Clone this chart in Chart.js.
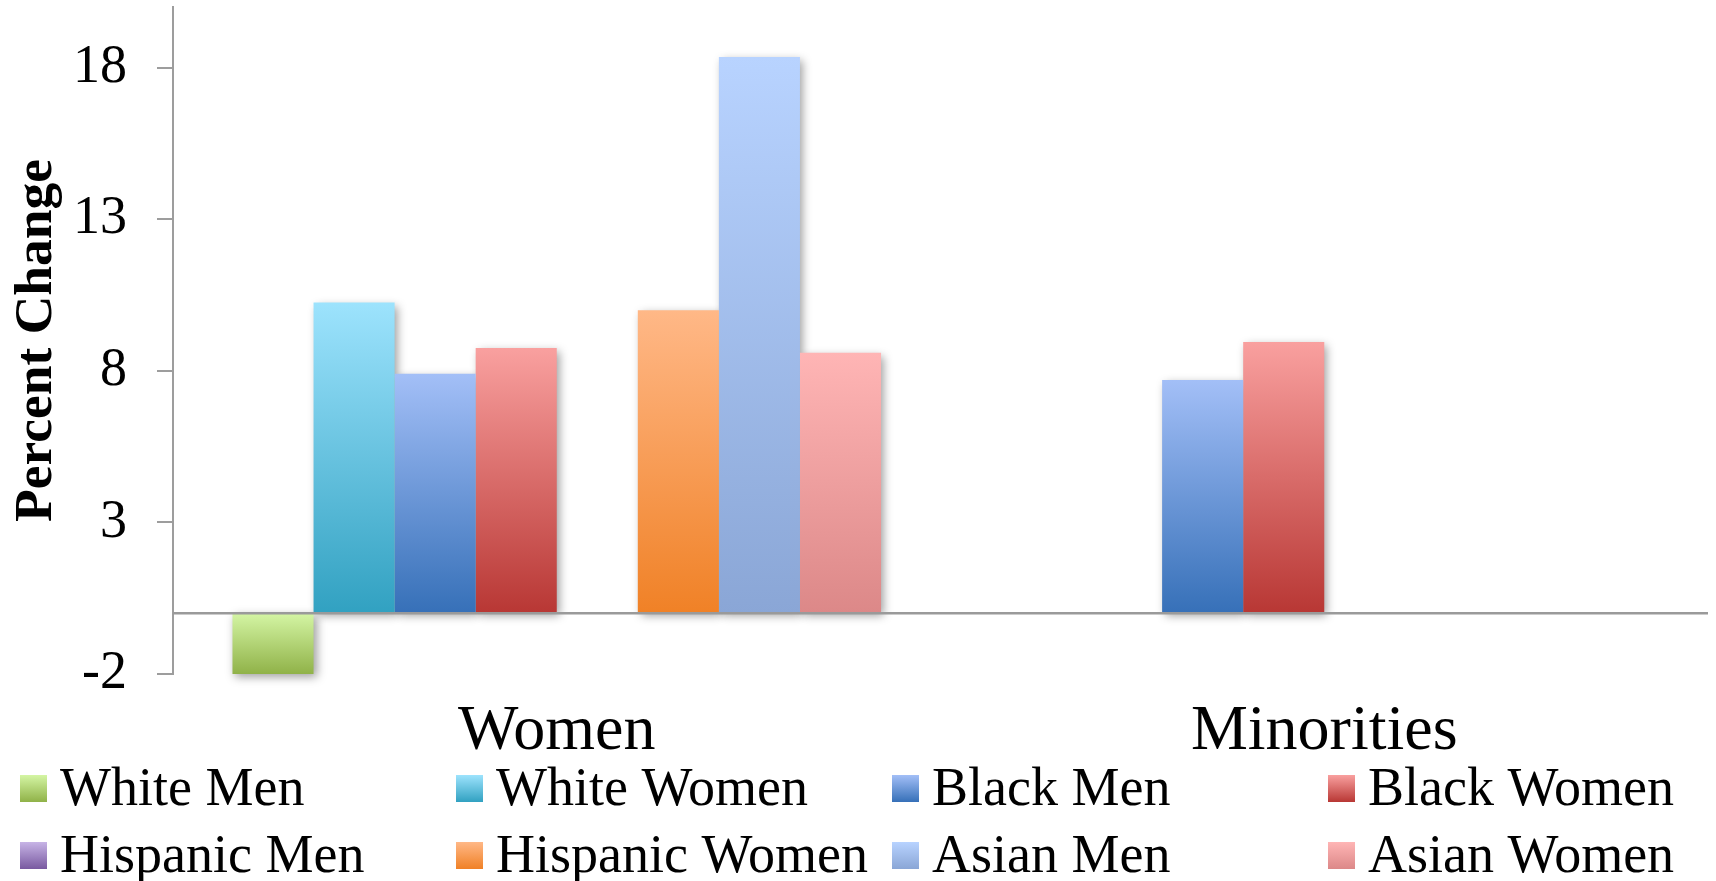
<!DOCTYPE html>
<html>
<head>
<meta charset="utf-8">
<title>Percent Change</title>
<script src="https://cdn.jsdelivr.net/npm/chart.js@4/dist/chart.umd.min.js"></script>
<style>
  html, body { margin: 0; padding: 0; background: #ffffff; }
  #wrap { width: 1716px; height: 881px; position: relative; }
</style>
</head>
<body>
<div id="wrap"><canvas id="chart" width="1716" height="881"></canvas></div>
<script>
// ---- data ----
const categories = ['Women', 'Minorities'];
const seriesNames = ['White Men', 'White Women', 'Black Men', 'Black Women',
                     'Hispanic Men', 'Hispanic Women', 'Asian Men', 'Asian Women'];
const whiteMen      = [-2.0, null];
const whiteWomen    = [10.25, null];
const blackMen      = [7.9, 7.7];
const blackWomen    = [8.75, 8.95];
const hispanicMen   = [null, null];
const hispanicWomen = [10.0, null];
const asianMen      = [18.35, null];
const asianWomen    = [8.6, null];
const yTicks = [-2, 3, 8, 13, 18];
const yMin = -2;
const yMax = 20;

// ---- styles: light (top) and dark (bottom) end of each series gradient ----
const seriesColors = [
  ['#d4f5a4', '#90b248'],
  ['#9de3fd', '#31a1c1'],
  ['#a3bff7', '#3670b8'],
  ['#f9a09f', '#b83734'],
  ['#c7b4e6', '#7959a0'],
  ['#ffb887', '#f08126'],
  ['#b8d3ff', '#8aa6d6'],
  ['#ffb5b5', '#dc8888']
];
const seriesValues = [whiteMen, whiteWomen, blackMen, blackWomen,
                      hispanicMen, hispanicWomen, asianMen, asianWomen];

const FONT = "'Liberation Serif', 'Times New Roman', Times, serif";

// vertical gradient running from the top of each bar to its bottom
function barGradient(ctx, colors) {
  const chart = ctx.chart;
  const yScale = chart.scales && chart.scales.y;
  const v = ctx.raw;
  if (!yScale || !chart.chartArea || v == null) return colors[0];
  const top = yScale.getPixelForValue(Math.max(v, 0));
  const bottom = yScale.getPixelForValue(Math.min(v, 0));
  const g = chart.ctx.createLinearGradient(0, top, 0, Math.max(bottom, top + 1));
  g.addColorStop(0, colors[0]);
  g.addColorStop(1, colors[1]);
  return g;
}

// soft drop shadow behind the bars (only the shadow is painted)
const barShadow = {
  id: 'barShadow',
  beforeDatasetsDraw(chart) {
    const ctx = chart.ctx;
    const off = 10000;
    ctx.save();
    ctx.shadowColor = 'rgba(0,0,0,0.38)';
    ctx.shadowBlur = 9;
    ctx.shadowOffsetX = off + 3;
    ctx.shadowOffsetY = 3;
    ctx.fillStyle = '#000';
    chart.data.datasets.forEach((ds, i) => {
      const meta = chart.getDatasetMeta(i);
      meta.data.forEach((el, j) => {
        if (ds.data[j] == null) return;
        const p = el.getProps(['x', 'y', 'base', 'width'], true);
        ctx.fillRect(p.x - p.width / 2 - off, Math.min(p.y, p.base),
                     p.width, Math.abs(p.base - p.y));
      });
    });
    ctx.restore();
  }
};

// horizontal line at zero across the plot
const zeroLine = {
  id: 'zeroLine',
  afterDatasetsDraw(chart) {
    const { ctx, chartArea, scales } = chart;
    const y0 = scales.y.getPixelForValue(0);
    ctx.save();
    ctx.strokeStyle = '#9a9a9a';
    ctx.lineWidth = 2.5;
    ctx.beginPath();
    ctx.moveTo(chartArea.left, y0);
    ctx.lineTo(chartArea.right, y0);
    ctx.stroke();
    ctx.restore();
  }
};

// four-column legend under the category labels
const gridLegend = {
  id: 'gridLegend',
  afterDraw(chart) {
    const ctx = chart.ctx;
    const top = chart.scales.x.bottom;
    ctx.save();
    ctx.font = '54px ' + FONT;
    ctx.textBaseline = 'alphabetic';
    ctx.textAlign = 'left';
    chart.data.datasets.forEach((ds, i) => {
      const col = i % 4;
      const row = Math.floor(i / 4);
      const bx = 20 + col * 436;
      const by = top + 4 + row * 67;
      const colors = seriesColors[i];
      const g = ctx.createLinearGradient(0, by, 0, by + 27);
      g.addColorStop(0, colors[0]);
      g.addColorStop(1, colors[1]);
      ctx.fillStyle = g;
      ctx.fillRect(bx, by, 27, 27);
      ctx.fillStyle = '#000';
      ctx.fillText(ds.label, bx + 40, by + 30);
    });
    ctx.restore();
  }
};

const datasets = seriesNames.map((name, i) => ({
  label: name,
  data: seriesValues[i],
  backgroundColor: (ctx) => barGradient(ctx, seriesColors[i]),
  borderWidth: 0,
  barPercentage: 1.0,
  categoryPercentage: 0.845
}));

new Chart(document.getElementById('chart'), {
  type: 'bar',
  data: { labels: categories, datasets },
  plugins: [barShadow, zeroLine, gridLegend],
  options: {
    responsive: false,
    animation: false,
    devicePixelRatio: 1,
    layout: { padding: { top: 7, right: 8, bottom: 110, left: 0 } },
    plugins: {
      legend: { display: false },
      tooltip: { enabled: false },
      title: { display: false }
    },
    scales: {
      x: {
        grid: { display: false, drawTicks: false },
        border: { display: false },
        ticks: { color: '#000', font: { family: FONT, size: 64 }, padding: 20 },
        afterFit(scale) {
          scale.height = 97;
          scale.paddingLeft = 0;
          scale.paddingRight = 0;
        }
      },
      y: {
        min: yMin,
        max: yMax,
        afterBuildTicks(scale) {
          scale.ticks = yTicks.map(v => ({ value: v }));
        },
        grid: {
          drawOnChartArea: false,
          drawTicks: true,
          tickLength: 16,
          color: '#9d9d9d',
          lineWidth: 2
        },
        border: { display: true, color: '#9d9d9d', width: 2 },
        ticks: {
          color: '#000',
          font: { family: FONT, size: 54 },
          padding: 30,
          callback: (v) => String(v)
        },
        title: {
          display: true,
          text: 'Percent Change',
          color: '#000',
          font: { family: FONT, size: 53.5, weight: 'bold' },
          padding: { top: 5, bottom: 0 }
        },
        afterFit(scale) {
          scale.width = 173;
          scale.paddingTop = 0;
          scale.paddingBottom = 0;
        }
      }
    }
  }
});
</script>
</body>
</html>
